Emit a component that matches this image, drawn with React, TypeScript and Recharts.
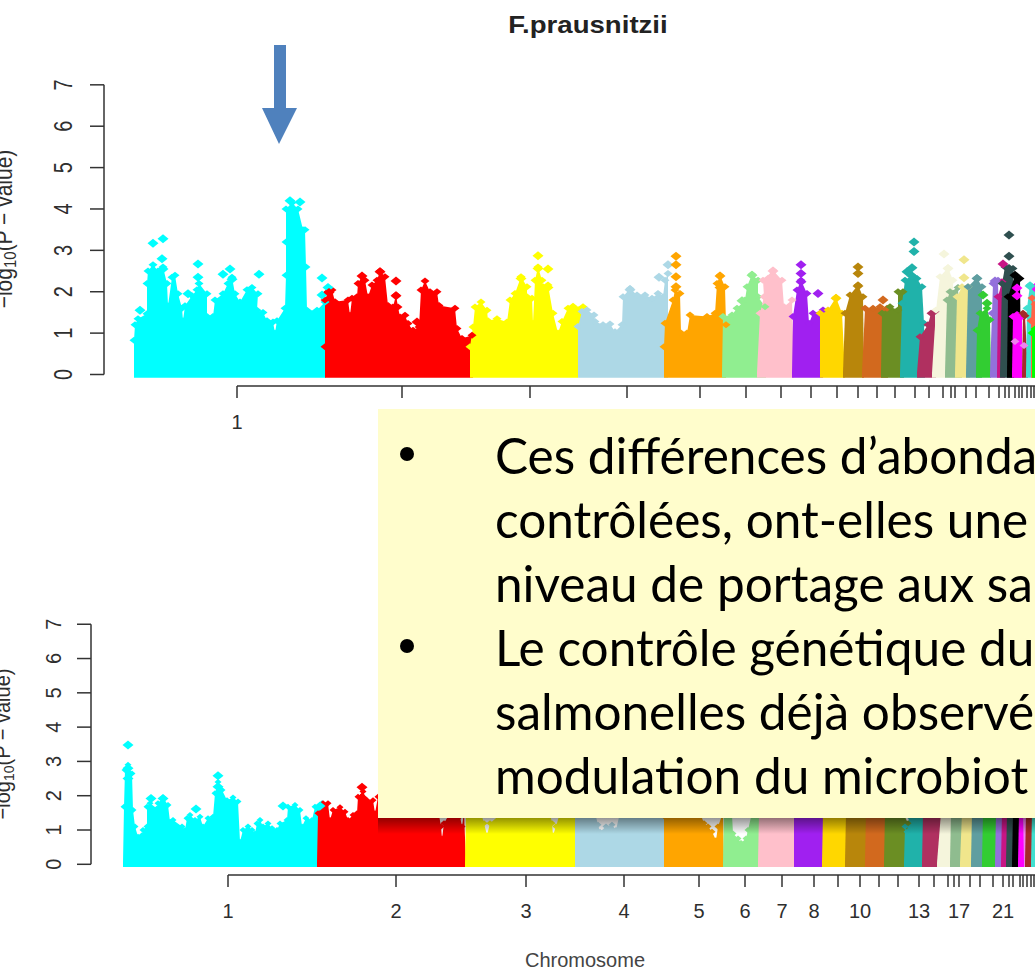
import React from "react";
import {
  Area,
  ComposedChart,
  ReferenceLine,
  Scatter,
  XAxis,
  YAxis,
} from "recharts";

type Pt = [number, number];

const chromColors = [
  "#00ffff", "#ff0000", "#ffff00", "#add8e6", "#ffa500", "#90ee90", "#ffc0cb", "#a020f0",
  "#ffd700", "#b8860b", "#d2691e", "#6b8e23", "#20b2aa", "#b03060", "#f5f5dc", "#8fbc8f",
  "#f0e68c", "#5f9ea0", "#32cd32", "#9370db", "#c71585", "#2f4f4f", "#000000", "#ee82ee",
  "#ff00ff", "#a52a2a", "#40e0d0", "#ff6347", "#00ff00",
];

// upper chart: outline of each chromosome, position along the genome / -log10(p)
const upper01: Pt[] = [[134,0.05],[134,0.83],[135,1.2],[138,1.35],[147,1.47],[147,2.2],[148,2.5],[153,2.65],[158,2.5],[163,2.6],[167,2.2],[168,1.66],[172,2.35],[175,2.4],[178,1.95],[182,1.6],[183,1.3],[185,1.66],[192,1.9],[197,2.05],[199,2.2],[207,1.95],[207,1.4],[213,1.4],[215,1.8],[223,1.95],[228,2.2],[232,2.35],[235,1.95],[240,1.75],[247,2.05],[252,2.1],[258,1.95],[257,1.55],[263,1.5],[267,1.3],[273,1.27],[275,1.0],[277,1.3],[285,1.6],[286,2.4],[286,3.2],[286,4.0],[292,4.15],[298,4.0],[303,3.5],[305,3.5],[306,2.6],[307,1.55],[317,1.55],[325,1.75],[326,0.05]];
const upper02: Pt[] = [[325,0.05],[325,0.67],[325,1.8],[328,2.0],[332,2.04],[335,1.76],[348,1.8],[350,1.43],[352,1.84],[357,1.88],[358,2.2],[362,2.38],[365,2.28],[368,1.88],[372,2.16],[377,2.28],[380,2.5],[385,2.36],[388,1.67],[393,1.63],[396,1.92],[398,1.63],[400,1.39],[405,1.43],[408,1.23],[413,1.07],[419,1.15],[421,2.04],[425,2.26],[430,2.0],[437,2.0],[439,1.67],[455,1.6],[457,1.11],[462,0.87],[472,0.95],[473,0.05]];
const upper03: Pt[] = [[470,0.05],[470,0.67],[473,1.15],[475,1.63],[481,1.75],[487,1.55],[488,1.3],[497,1.35],[507,1.27],[510,1.8],[515,1.96],[521,2.36],[527,2.12],[527,1.88],[532,1.84],[533,1.24],[535,2.28],[538,2.6],[542,2.28],[543,2.12],[548,2.16],[553,1.48],[558,1.0],[562,1.28],[568,1.6],[573,1.65],[583,1.64],[578,0.05]];
const upper04: Pt[] = [[578,0.05],[578,1.16],[582,1.52],[587,1.56],[594,1.44],[595,1.28],[603,1.2],[610,1.22],[615,1.03],[622,1.2],[623,1.88],[630,2.08],[637,1.92],[645,1.92],[652,1.84],[658,1.96],[663,1.88],[665,2.28],[668,2.44],[668,0.05]];
const upper05: Pt[] = [[664,0.05],[664,0.67],[665,1.24],[673,1.8],[675,2.04],[680,1.96],[681,1.0],[687,1.0],[690,1.44],[707,1.4],[715,1.48],[717,2.2],[720,2.4],[725,2.12],[726,1.2],[726,0.05]];
const upper06: Pt[] = [[722,0.05],[723,1.4],[732,1.44],[737,1.6],[745,1.8],[747,2.12],[752,2.42],[758,2.28],[758,1.88],[765,1.64],[766,0.05]];
const upper07: Pt[] = [[757,0.05],[760,1.48],[764,1.88],[763,2.28],[773,2.52],[782,2.28],[784,1.64],[792,1.8],[794,0.05]];
const upper08: Pt[] = [[792,0.05],[793,1.4],[797,2.04],[801,2.28],[807,1.96],[809,1.24],[813,1.48],[823,1.56],[823,0.05]];
const upper09: Pt[] = [[820,0.05],[820,1.48],[828,1.56],[836,1.86],[842,1.48],[845,0.05]];
const upper10: Pt[] = [[843,0.05],[845,1.48],[850,1.92],[858,2.16],[863,1.88],[864,0.05]];
const upper11: Pt[] = [[862,0.05],[865,1.6],[873,1.6],[880,1.64],[887,1.6],[888,0.05]];
const upper12: Pt[] = [[881,0.05],[882,1.48],[890,1.64],[898,1.56],[898,2.0],[903,2.0],[904,0.05]];
const upper13: Pt[] = [[900,0.05],[902,1.72],[905,2.28],[912,2.4],[917,2.32],[922,2.12],[924,1.24],[925,0.05]];
const upper14: Pt[] = [[917,0.05],[920,0.91],[928,1.2],[931,1.48],[935,1.52],[936,0.05]];
const upper15: Pt[] = [[932,0.05],[936,1.56],[940,2.36],[948,2.58],[953,2.28],[955,0.05]];
const upper16: Pt[] = [[945,0.05],[947,1.8],[950,2.0],[958,2.1],[962,0.05]];
const upper17: Pt[] = [[955,0.05],[957,1.88],[962,2.12],[968,2.12],[970,0.05]];
const upper18: Pt[] = [[966,0.05],[968,2.12],[977,2.34],[982,2.12],[982,0.05]];
const upper19: Pt[] = [[976,0.05],[977,1.07],[980,1.48],[987,1.6],[990,1.32],[991,0.05]];
const upper20: Pt[] = [[990,0.05],[992,1.48],[993,2.2],[998,2.28],[1000,0.05]];
const upper21: Pt[] = [[997,0.05],[998,1.88],[1002,2.24],[1005,0.05]];
const upper22: Pt[] = [[1000,0.05],[1002,2.2],[1005,2.6],[1013,2.56],[1015,0.05]];
const upper23: Pt[] = [[1007,0.05],[1008,1.88],[1015,2.4],[1020,2.32],[1021,0.05]];
const upper24: Pt[] = [[1014,0.05],[1015,0.8],[1024,0.7],[1025,0.05]];
const upper25: Pt[] = [[1012,0.05],[1013,1.4],[1017,1.45],[1022,1.4],[1022,0.05]];
const upper26: Pt[] = [[1022,0.05],[1023,1.48],[1025,1.42],[1028,0.05]];
const upper27: Pt[] = [[1026,0.05],[1027,1.6],[1030,2.16],[1035,2.1],[1035,0.05]];
const upper28: Pt[] = [[1031,1.3],[1032,1.85],[1035,1.7],[1035,1.3]];
const upper29: Pt[] = [[1032,0.05],[1032,1.0],[1035,1.1],[1035,0.05]];

// upper chart: detached peaks sitting above the outline
const upperPeaks: Pt[][] = [
  [[140,1.55],[153,3.17],[163,3.28],[162,2.8],[163,2.55],[188,1.95],[198,2.67],[198,2.35],[223,2.42],[230,2.55],[232,2.3],[259,2.42],[290,4.2],[300,4.17],[322,2.33],[322,1.92],[328,2.1]],
  [[362,2.38],[380,2.48],[396,2.26],[396,1.9],[417,1.27],[329,1.98]],
  [[538,2.87],[538,2.56],[548,2.55],[538,2.25],[548,2.1],[521,2.32]],
  [[668,2.65],[659,2.35],[630,2.05]],
  [[676,2.86],[676,2.65],[676,2.36],[676,2.12],[720,2.38],[720,2.1]],
  [[742,1.78],[752,2.4],[752,2.15]],
  [[773,2.5],[768,2.3]],
  [[801,2.65],[801,2.44],[801,2.24],[818,1.96]],
  [[836,1.84]],
  [[858,2.6],[858,2.44],[858,2.14]],
  [[883,1.8]],
  [],
  [[914,3.2],[914,2.97],[912,2.58],[907,2.48],[912,2.38]],
  [],
  [[944,2.91],[948,2.56]],
  [],
  [[964,2.77],[964,2.34]],
  [[977,2.32]],
  [[983,1.92],[987,1.72]],
  [[995,2.26]],
  [[1003,2.67]],
  [[1009,3.37],[1009,2.86],[1009,2.56]],
  [[1015,2.4]],
  [],
  [[1017,2.09],[1017,1.9],[1035,2.1]],
  [],
  [[1030,2.14]],
  [],
  [],
];

// lower chart: outlines, the part behind the yellow panel is a guess
const lower01: Pt[] = [[123,0.05],[124,1.68],[125,2.75],[128,2.9],[132,2.65],[133,1.58],[135,1.1],[138,0.8],[142,0.85],[143,1.0],[147,1.1],[147,1.68],[150,1.78],[157,1.63],[158,1.78],[163,1.95],[168,1.73],[170,1.24],[173,1.29],[182,1.1],[185,1.0],[187,1.34],[190,1.44],[195,1.29],[200,1.39],[203,1.1],[208,1.34],[213,1.39],[215,2.07],[218,2.4],[222,2.17],[227,1.87],[233,1.95],[238,1.83],[240,0.66],[243,1.0],[248,1.1],[252,1.0],[255,0.9],[257,1.19],[260,1.29],[263,1.1],[268,1.19],[272,1.05],[277,1.0],[280,1.19],[287,1.29],[288,1.68],[295,1.73],[300,1.58],[302,1.1],[306,1.34],[312,1.29],[315,1.68],[322,1.78],[323,0.05]];
const lower02: Pt[] = [[317,0.05],[318,1.49],[323,1.78],[328,1.78],[330,1.29],[333,1.58],[340,1.66],[345,1.53],[348,1.29],[353,1.44],[357,1.49],[358,1.97],[363,2.12],[367,1.87],[373,1.87],[375,1.49],[378,1.97],[400,1.9],[420,1.7],[438,1.6],[441,1.1],[442,0.75],[444,1.2],[452,1.6],[460,1.4],[462,1.1],[464,1.5],[466,0.05]];
const lower03: Pt[] = [[465,0.05],[466,1.5],[480,1.6],[484,1.2],[487,0.85],[490,1.2],[510,1.7],[535,1.7],[550,1.5],[552,1.2],[553,0.85],[556,1.1],[560,1.5],[577,1.5],[577,0.05]];
const lower04: Pt[] = [[575,0.05],[575,1.5],[595,1.5],[598,1.15],[600,0.95],[606,1.1],[612,1.15],[616,1.0],[620,1.5],[664,1.5],[664,0.05]];
const lower05: Pt[] = [[664,0.05],[664,1.4],[680,1.5],[700,1.5],[704,1.2],[708,1.1],[712,0.95],[716,0.7],[718,1.1],[723,1.5],[724,0.05]];
const lower06: Pt[] = [[723,0.05],[724,1.5],[732,1.45],[733,0.9],[738,0.75],[741,0.62],[746,0.75],[748,1.0],[752,1.5],[762,1.5],[762,0.05]];
const lower07: Pt[] = [[758,0.05],[759,1.5],[794,1.5],[794,0.05]];
const lower08: Pt[] = [[794,0.05],[794,1.5],[823,1.5],[826,0.05]];
const lower09: Pt[] = [[822,0.05],[823,1.5],[846,1.5],[850,0.05]];
const lower10: Pt[] = [[845,0.05],[846,1.5],[867,1.5],[868,0.05]];
const lower11: Pt[] = [[865,0.05],[866,1.5],[887,1.5],[888,0.05]];
const lower12: Pt[] = [[884,0.05],[885,1.5],[903,1.5],[908,1.2],[908,0.05]];
const lower13: Pt[] = [[904,0.05],[905,1.1],[907,0.95],[909,1.4],[924,1.5],[925,0.05]];
const lower14: Pt[] = [[922,0.05],[923,1.5],[942,1.5],[942,0.05]];
const lower15: Pt[] = [[937,0.05],[941,1.5],[951,1.5],[952,0.05]];
const lower16: Pt[] = [[950,0.05],[951,1.5],[963,1.5],[963,0.05]];
const lower17: Pt[] = [[960,0.05],[962,1.5],[975,1.5],[975,0.05]];
const lower18: Pt[] = [[971,0.05],[972,1.5],[985,1.5],[985,0.05]];
const lower19: Pt[] = [[982,0.05],[983,1.5],[998,1.5],[998,0.05]];
const lower20: Pt[] = [[995,0.05],[996,1.5],[1003,1.5],[1003,0.05]];
const lower21: Pt[] = [[1001,0.05],[1002,1.5],[1007,1.5],[1007,0.05]];
const lower22: Pt[] = [[1006,0.05],[1007,1.5],[1014,1.5],[1014,0.05]];
const lower23: Pt[] = [[1012,0.05],[1013,1.5],[1019,1.5],[1019,0.05]];
const lower24: Pt[] = [[1019,0.05],[1020,1.5],[1026,1.5],[1026,0.05]];
const lower25: Pt[] = [[1018,0.05],[1019,1.5],[1023,1.5],[1024,0.05]];
const lower26: Pt[] = [[1025,0.05],[1026,1.5],[1033,1.5],[1034,0.05]];
const lower27: Pt[] = [[1031,0.05],[1032,1.5],[1035,1.5],[1035,0.05]];

const lowerPeaks: Pt[][] = [
  [[128,3.48],[128,2.8],[128,2.5],[151,1.92],[163,1.92],[196,1.61],[218,2.58],[218,2.26],[283,1.7],[320,1.7]],
  [[362,2.25],[362,1.95]],
];

const upperOutlines = [upper01,upper02,upper03,upper04,upper05,upper06,upper07,upper08,upper09,upper10,upper11,upper12,upper13,upper14,upper15,upper16,upper17,upper18,upper19,upper20,upper21,upper22,upper23,upper24,upper25,upper26,upper27,upper28,upper29];
const lowerOutlines = [lower01,lower02,lower03,lower04,lower05,lower06,lower07,lower08,lower09,lower10,lower11,lower12,lower13,lower14,lower15,lower16,lower17,lower18,lower19,lower20,lower21,lower22,lower23,lower24,lower25,lower26,lower27];

const yTicks = [0, 1, 2, 3, 4, 5, 6, 7];
const upperTicks = [237,402,530,627,700,746,781,811,837,858,877,895,915,929,943,951,955,966,976,989,999,1005,1009,1015,1019,1022,1027,1031,1034];
const lowerTicks = [228,396,526,624,699,745,782,814,838,860,879,898,919,934,948,954,959,970,980,993,1003,1009,1013,1020,1023,1027,1031,1034];
const upperTickLabels = ["1"];
const lowerTickLabels = ["1","2","3","4","5","6","7","8","","10","","","13","","","","17","","","","21"];

const panelLines = [
  "Ces différences d’abonda",
  "contrôlées, ont-elles une",
  "niveau de portage aux sa",
  "Le contrôle génétique du",
  "salmonelles déjà observé",
  "modulation du microbiot",
];

const rFont = "'Liberation Sans', Arial, sans-serif";
const inkColor = "#2e2e2e";
const toRows = (pts: Pt[]) => pts.map(([pos, v]) => ({ pos, v }));
const aboveBase = (pts: Pt[]) => pts.filter(([, v]) => v > 0.1);

const Diamond = ({ cx, cy, fill, w, h }: any) => (
  <polygon
    points={`${cx - w},${cy} ${cx},${cy - h} ${cx + w},${cy} ${cx},${cy + h}`}
    fill={fill}
  />
);

const YTick = ({ x, y, payload, shift, stretch }: any) => (
  <text
    transform={`translate(${x - shift},${y}) scale(${stretch},1) rotate(-90)`}
    textAnchor="middle"
    fontFamily={rFont}
    fontSize={20}
    fill={inkColor}
  >
    {payload.value}
  </text>
);

interface PlotProps {
  top: number;
  height: number;
  marginTop: number;
  axisHeight: number;
  yAxisWidth: number;
  yDomain: [number, number];
  ticks: number[];
  tickLabels: string[];
  outlines: Pt[][];
  peaks: Pt[][];
  tickShift: number;
  tickStretch: number;
  edge: [number, number];
  xlabel?: string;
}

const ManhattanPlot = ({ top, height, marginTop, axisHeight, yAxisWidth, yDomain, ticks, tickLabels, outlines, peaks, tickShift, tickStretch, edge, xlabel }: PlotProps) => (
  <div style={{ position: "absolute", left: 0, top }}>
    <ComposedChart
      width={1035}
      height={height}
      margin={{ top: marginTop, right: 0, bottom: 0, left: 0 }}
    >
      <XAxis
        type="number"
        dataKey="pos"
        domain={[yAxisWidth, 1035]}
        ticks={ticks}
        interval={0}
        height={axisHeight}
        axisLine={false}
        tickSize={12}
        tickLine={{ stroke: "#333", strokeWidth: 1.5 }}
        tickMargin={17}
        tickFormatter={(v: number) => tickLabels[ticks.indexOf(v)] ?? ""}
        tick={{ fontFamily: rFont, fontSize: 20, fill: inkColor }}
        label={
          xlabel
            ? { value: xlabel, position: "insideBottom", offset: 2, dx: 22, fontFamily: rFont, fontSize: 20, fill: "#444" }
            : undefined
        }
      />
      <YAxis
        type="number"
        dataKey="v"
        domain={yDomain}
        ticks={yTicks}
        interval={0}
        width={yAxisWidth}
        axisLine={false}
        tickSize={14}
        tickLine={{ stroke: "#333", strokeWidth: 1.5 }}
        tick={<YTick shift={tickShift} stretch={tickStretch} />}
      />
      <ReferenceLine
        segment={[{ x: yAxisWidth, y: 0 }, { x: yAxisWidth, y: 7 }]}
        stroke="#333"
        strokeWidth={1.5}
        ifOverflow="visible"
      />
      <ReferenceLine
        segment={[{ x: ticks[0], y: yDomain[0] }, { x: 1035, y: yDomain[0] }]}
        stroke="#333"
        strokeWidth={1.5}
        ifOverflow="visible"
      />
      {outlines.map((pts, i) => (
        <Area
          key={`a${i}`}
          data={toRows(pts)}
          dataKey="v"
          type="linear"
          baseValue={-0.08}
          stroke="none"
          fill={chromColors[i]}
          fillOpacity={1}
          dot={false}
          activeDot={false}
          isAnimationActive={false}
        />
      ))}
      {outlines.map((pts, i) => (
        <Scatter
          key={`e${i}`}
          data={toRows(aboveBase(pts))}
          dataKey="v"
          fill={chromColors[i]}
          shape={<Diamond w={edge[0]} h={edge[1]} />}
          isAnimationActive={false}
        />
      ))}
      {peaks.map((pts, i) => (
        <Scatter
          key={`p${i}`}
          data={toRows(pts)}
          dataKey="v"
          fill={chromColors[i]}
          shape={<Diamond w={5.5} h={4.5} />}
          isAnimationActive={false}
        />
      ))}
    </ComposedChart>
  </div>
);

const AxisTitle = ({ x, y, size }: { x: number; y: number; size: number }) => (
  <text
    transform={`translate(${x},${y}) scale(1.1,1) rotate(-90)`}
    textAnchor="middle"
    fontFamily={rFont}
    fontSize={size}
    fill={inkColor}
  >
    −log<tspan fontSize={size - 6} dy={4}>10</tspan><tspan dy={-4}>(P − value)</tspan>
  </text>
);

const Annotations = () => (
  <svg width={1035} height={969} style={{ position: "absolute", left: 0, top: 0 }}>
    <polygon points="274,45 286,45 286,108 297,108 279,144 262,108 274,108" fill="#4f81bd" />
    <text
      transform="translate(588,33) scale(1.2,1)"
      textAnchor="middle"
      fontFamily={rFont}
      fontWeight="bold"
      fontSize={23}
      fill="#222"
    >
      F.prausnitzii
    </text>
    <AxisTitle x={12} y={229} size={21} />
    <AxisTitle x={10} y={744} size={20} />
  </svg>
);

const Panel = () => (
  <>
    <div
      style={{
        position: "absolute",
        left: 378,
        top: 818,
        width: 657,
        height: 16,
        background: "linear-gradient(rgba(0,0,0,0.42), rgba(0,0,0,0))",
      }}
    />
    <div
      style={{
        position: "absolute",
        left: 378,
        top: 409,
        width: 657,
        height: 409,
        background: "#fffdcc",
        overflow: "hidden",
        fontFamily: "Lato, sans-serif",
        fontSize: 49.5,
        lineHeight: "64px",
        color: "#000",
      }}
    >
      {panelLines.map((line, i) => (
        <div key={i} style={{ position: "absolute", left: 117, top: 14 + i * 64, whiteSpace: "nowrap" }}>
          {line}
        </div>
      ))}
      {[0, 3].map((i) => (
        <div
          key={i}
          style={{
            position: "absolute",
            left: 22,
            top: 38 + i * 64,
            width: 14,
            height: 14,
            borderRadius: 7,
            background: "#000",
          }}
        />
      ))}
    </div>
  </>
);

const App = () => (
  <div style={{ position: "absolute", left: 0, top: 0, width: 1035, height: 969, overflow: "hidden", background: "#fff" }}>
    <ManhattanPlot
      top={0}
      height={440}
      marginTop={60}
      axisHeight={54}
      yAxisWidth={104}
      yDomain={[-0.278, 7.6]}
      ticks={upperTicks}
      tickLabels={upperTickLabels}
      outlines={upperOutlines}
      peaks={upperPeaks}
      tickShift={16}
      tickStretch={1.3}
      edge={[4.5, 3.5]}
    />
    <ManhattanPlot
      top={560}
      height={409}
      marginTop={20}
      axisHeight={94}
      yAxisWidth={91}
      yDomain={[-0.312, 8.29]}
      ticks={lowerTicks}
      tickLabels={lowerTickLabels}
      outlines={lowerOutlines}
      peaks={lowerPeaks}
      tickShift={14}
      tickStretch={1.1}
      edge={[3.5, 3]}
      xlabel="Chromosome"
    />
    <Annotations />
    <Panel />
  </div>
);

export default App;
